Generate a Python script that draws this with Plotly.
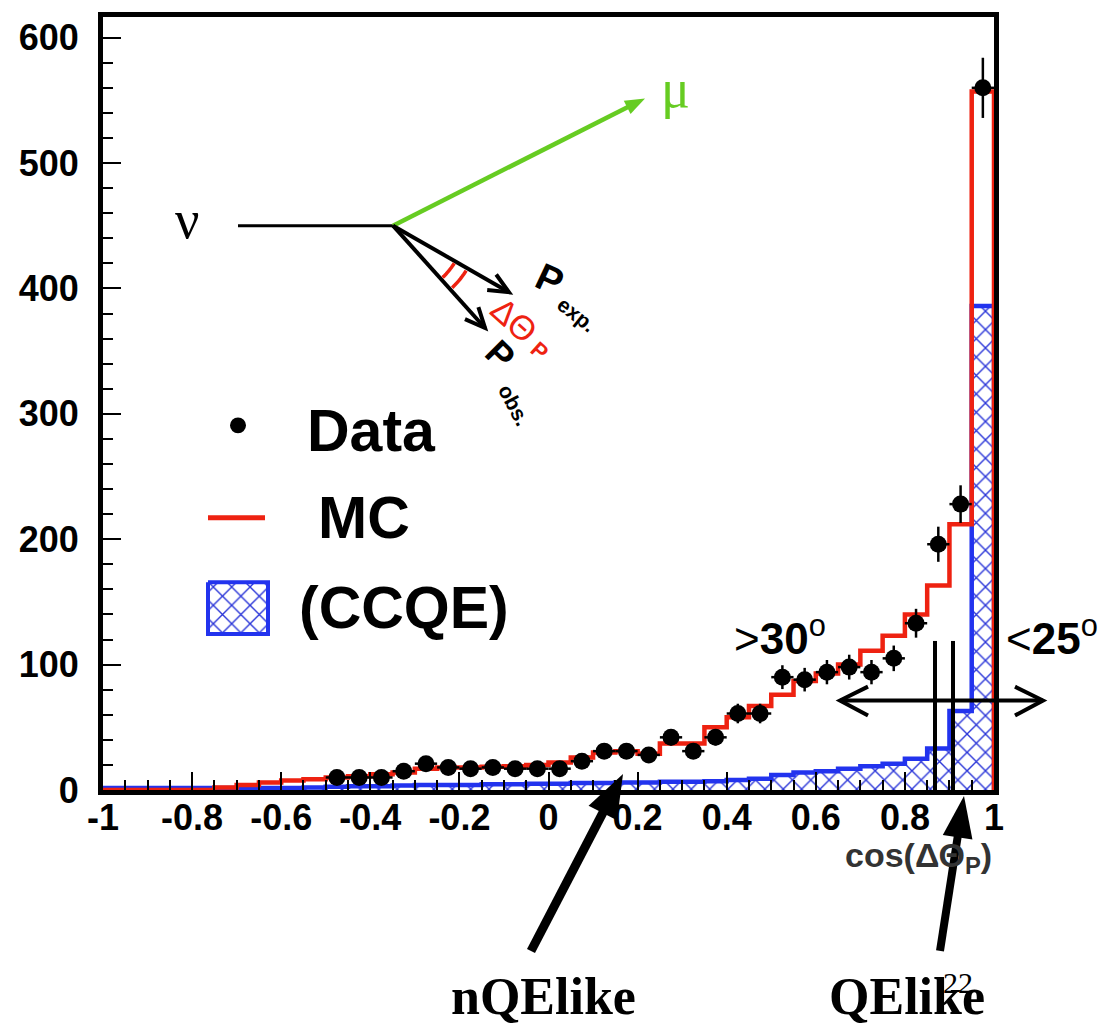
import numpy as np
import plotly.graph_objects as go

# ---- histogram contents (40 bins of width 0.05 on [-1, 1]) ----
bin_edges = np.round(np.linspace(-1.0, 1.0, 41), 3)
bin_centers = np.round((bin_edges[:-1] + bin_edges[1:]) / 2, 4)

mc_counts = [0, 0, 0, 0, 0, 2, 4, 6, 7.5, 8.5,
             10, 11, 12.5, 14, 17, 18, 18, 18.5, 19, 20,
             22, 26, 30, 31, 29, 37, 37, 50, 58, 67,
             76, 87, 93, 100, 111, 123, 140, 163, 212, 557]

ccqe_counts = [1.5, 1.5, 1.5, 1.5, 1.5, 1.5, 1.5, 1.5, 1.5, 2,
               2.5, 3, 3, 3.5, 4, 4, 4, 4.5, 4.5, 5,
               5, 5.5, 5.5, 6, 6, 6.5, 6.5, 7, 8, 9,
               12, 14, 15, 17, 19, 21, 25, 33, 63, 386]

# data exist from bin 10 (cos = -0.475) upward
data_first_bin = 10
data_counts = [10, 10, 10, 15, 21, 18, 17, 18, 17, 17,
               17, 23, 31, 31, 28, 42, 31, 42, 61, 61,
               90, 88, 94, 98, 94, 105, 133, 196, 228, 560]
data_errors = [3.2, 3.2, 3.2, 3.9, 4.6, 4.2, 4.1, 4.2, 4.1, 4.1,
               4.1, 4.8, 5.6, 5.6, 5.3, 6.5, 5.6, 6.5, 7.8, 7.8,
               9.5, 9.4, 9.7, 9.9, 9.7, 10.2, 11.5, 14, 15, 24]

x_tick_vals = [-1, -0.8, -0.6, -0.4, -0.2, 0, 0.2, 0.4, 0.6, 0.8, 1]
x_tick_text = ["-1", "-0.8", "-0.6", "-0.4", "-0.2", "0", "0.2", "0.4", "0.6", "0.8", "1"]
y_tick_vals = [0, 100, 200, 300, 400, 500, 600]

RED = "#ee2211"
BLUE = "#2233ee"
HATCH = "#2a35d8"
GREEN = "#66cc22"
SANS = "Liberation Sans"
SERIF = "Liberation Serif"

# page geometry (pixels) of the frame
L, R, T, B = 103, 994, 12, 790
W, H = 1119, 1026


def PX(x):
    return (x - L) / (R - L)


def PY(y):
    return (B - y) / (B - T)


def step_xy(values):
    xs = list(bin_edges) + [bin_edges[-1]]
    ys = list(values) + [values[-1], 0]
    return xs, ys


hatch = dict(shape="x", fgcolor=HATCH, bgcolor="white", fgopacity=1,
             size=13, solidity=0.2)

fig = go.Figure()

# CCQE component: hatched step histogram
cx, cy = step_xy(ccqe_counts)
fig.add_trace(go.Scatter(
    x=cx, y=cy, mode="lines", line_shape="hv",
    line=dict(color=BLUE, width=4.5),
    fill="tozeroy", fillcolor="white", fillpattern=hatch,
    hoverinfo="skip", name="(CCQE)"))

# full MC prediction
mx, my = step_xy(mc_counts)
fig.add_trace(go.Scatter(
    x=mx, y=my, mode="lines", line_shape="hv",
    line=dict(color=RED, width=4.5), hoverinfo="skip", name="MC"))

# data points with error bars
data_x = list(bin_centers[data_first_bin:data_first_bin + len(data_counts)])
fig.add_trace(go.Scatter(
    x=data_x, y=data_counts, mode="markers",
    marker=dict(color="black", size=17, symbol="circle"),
    error_y=dict(type="data", array=data_errors, color="black", thickness=2.5, width=0),
    error_x=dict(type="constant", value=0.025, color="black", thickness=2.5, width=0),
    name="Data"))

# legend box for the CCQE entry (pixel-coordinate overlay axes)
fig.add_trace(go.Scatter(
    x=[208, 268, 268, 208, 208], y=[581, 581, 633, 633, 581],
    xaxis="x2", yaxis="y2", mode="lines",
    line=dict(color=BLUE, width=4),
    fill="toself", fillcolor="white", fillpattern=hatch,
    hoverinfo="skip", showlegend=False))

shapes = []
annotations = []


def line(x0, y0, x1, y1, color="black", width=3):
    shapes.append(dict(type="line", xref="paper", yref="paper",
                       x0=PX(x0), y0=PY(y0), x1=PX(x1), y1=PY(y1),
                       line=dict(color=color, width=width)))


def path(points, color, width=0, fill=None, closed=False):
    d = "M" + " L".join(f"{PX(x):.5f},{PY(y):.5f}" for x, y in points)
    if closed:
        d += " Z"
    shp = dict(type="path", xref="paper", yref="paper", path=d,
               line=dict(color=color, width=width))
    if fill:
        shp["fillcolor"] = fill
    shapes.append(shp)


def arrow_filled(tail, tip, color, width, hl, hw):
    t = np.array(tail, float)
    p = np.array(tip, float)
    d = (p - t) / np.linalg.norm(p - t)
    n = np.array([-d[1], d[0]])
    base = p - d * hl
    line(t[0], t[1], base[0] + d[0] * 2, base[1] + d[1] * 2, color, width)
    path([p, base + n * hw / 2, base - n * hw / 2], color, 0, fill=color, closed=True)


def arrow_open(tail, tip, color, width, hl, hw):
    t = np.array(tail, float)
    p = np.array(tip, float)
    d = (p - t) / np.linalg.norm(p - t)
    n = np.array([-d[1], d[0]])
    base = p - d * hl
    line(t[0], t[1], p[0], p[1], color, width)
    path([base + n * hw / 2, p, base - n * hw / 2], color, width)


def text(x, y, s, size, color="black", family=SANS, weight="normal", angle=0,
         xanchor="center", yanchor="middle"):
    annotations.append(dict(xref="paper", yref="paper", x=PX(x), y=PY(y), text=s,
                            showarrow=False, textangle=angle,
                            xanchor=xanchor, yanchor=yanchor,
                            font=dict(family=family, size=size, color=color, weight=weight)))


# ---- kinematics sketch ----
vertex = (393, 222)
text(187, 216, "ν", 54, family=SERIF)
line(238, 222, vertex[0], vertex[1], "black", 3)
arrow_filled(vertex, (645, 94), GREEN, 4.5, 20, 15)
text(675, 84, "μ", 54, color=GREEN, family=SERIF)
arrow_open(vertex, (509, 289), "black", 4, 20, 18)
arrow_open(vertex, (485, 325), "black", 4, 20, 18)

a_exp = np.arctan2(289 - 222, 509 - 393)
a_obs = np.arctan2(325 - 222, 485 - 393)
for r in (72, 86):
    ang = np.linspace(a_exp + 0.03, a_obs - 0.03, 12)
    pts = [(vertex[0] + r * np.cos(a), vertex[1] + r * np.sin(a)) for a in ang]
    path(pts, RED, 3.5)

text(549, 276, "P", 38, weight="bold", angle=25)
text(577, 311, "exp.", 21, weight="bold", angle=38)
text(514, 317, "ΔΘ", 34, color=RED, angle=42)
text(539, 348, "P", 22, color=RED, weight="bold", angle=42)
text(500, 352, "P", 36, weight="bold", angle=45)
text(514, 402, "obs.", 21, weight="bold", angle=62)

# ---- legend ----
shapes.append(dict(type="circle", xref="paper", yref="paper",
                   x0=PX(230), x1=PX(246), y0=PY(415), y1=PY(431),
                   fillcolor="black", line=dict(color="black", width=0)))
text(305, 429, "Data", 59, weight="bold", xanchor="left")
line(208, 516, 265, 516, RED, 5)
text(316, 516, "MC", 59, weight="bold", xanchor="left")
text(297, 607, "(CCQE)", 59, weight="bold", xanchor="left")

# ---- angular cut markers ----
line(935, 640, 935, 790, "black", 4)
line(953, 640, 953, 790, "black", 4)
line(840, 700, 1043, 700, "black", 4)
path([(868, 686), (840, 700), (868, 715)], "black", 4)
path([(1015, 686), (1043, 700), (1015, 715)], "black", 4)
text(780, 634, "&gt;<b>30</b><sup>o</sup>", 44)
text(1052, 634, "&lt;<b>25</b><sup>o</sup>", 44)

# ---- x-axis title ----
text(994, 858, "cos(ΔΘ<sub>P</sub>)", 34, color="#333333", weight="bold", xanchor="right")

# ---- sample arrows below the axis ----
arrow_filled((531, 952), (623, 774), "black", 9, 44, 32)
arrow_filled((940, 952), (964, 796), "black", 8, 42, 30)
text(543, 998, "nQElike", 52, family=SERIF, weight="bold")
text(907, 998, "QElike", 52, family=SERIF, weight="bold")
text(958, 984, "22", 30, family=SERIF)

tick_font = dict(family=SANS, size=36, color="black", weight="bold")

fig.update_layout(
    width=W, height=H,
    margin=dict(l=L, r=W - R, t=T, b=H - B),
    paper_bgcolor="white", plot_bgcolor="white",
    showlegend=False,
    xaxis=dict(range=[-1, 1], showgrid=False, zeroline=False,
               showline=True, linecolor="black", linewidth=5, mirror=True,
               tickmode="array", tickvals=x_tick_vals, ticktext=x_tick_text,
               ticks="inside", ticklen=18, tickwidth=2, tickcolor="black",
               tickfont=tick_font, ticklabelstandoff=-8,
               minor=dict(tickmode="linear", tick0=-1, dtick=0.05, ticks="inside",
                          ticklen=10, tickwidth=2, tickcolor="black")),
    yaxis=dict(range=[0, 616.5], showgrid=False, zeroline=False,
               showline=True, linecolor="black", linewidth=5, mirror=True,
               tickmode="array", tickvals=y_tick_vals,
               ticks="inside", ticklen=18, tickwidth=2, tickcolor="black",
               tickfont=tick_font, ticklabelstandoff=12,
               minor=dict(tickmode="linear", tick0=0, dtick=20, ticks="inside",
                          ticklen=10, tickwidth=2, tickcolor="black")),
    xaxis2=dict(range=[L, R], overlaying="x", visible=False),
    yaxis2=dict(range=[B, T], overlaying="y", visible=False),
    shapes=shapes,
    annotations=annotations,
)

fig.write_html("out.html")
